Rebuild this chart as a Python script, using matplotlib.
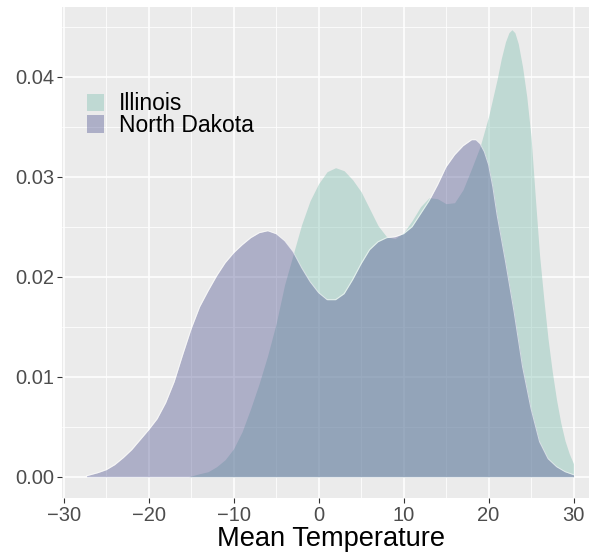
import matplotlib
matplotlib.use("Agg")
import matplotlib.pyplot as plt
from matplotlib.patches import Patch

# densities
il_x = [-15.3, -14, -13, -12, -11, -10, -9, -8, -7, -6, -5, -4, -3, -2, -1, 0,
        1, 2, 3, 4, 5, 6, 7, 8, 9, 10, 11, 12, 13, 14, 15, 16, 17, 18, 19, 20,
        21, 21.5, 22, 22.4, 22.75, 23.1, 23.5, 24, 24.5, 25, 25.5, 26, 26.5, 27,
        27.5, 28, 28.5, 29, 29.5, 30]
il_y = [0.0, 0.0003, 0.0005, 0.001, 0.0017, 0.0028, 0.0045, 0.0068, 0.0093,
        0.0121, 0.0153, 0.0192, 0.0222, 0.0252, 0.0276, 0.0293, 0.0305, 0.0309,
        0.0306, 0.0297, 0.0285, 0.0268, 0.0251, 0.0240, 0.0238, 0.0244, 0.0256,
        0.0270, 0.0279, 0.0278, 0.0273, 0.0274, 0.0287, 0.0308, 0.0330, 0.0360,
        0.0397, 0.0418, 0.0435, 0.0444, 0.0447, 0.0444, 0.0433, 0.0410, 0.0380,
        0.0340, 0.0280, 0.0222, 0.0178, 0.0138, 0.0105, 0.0077, 0.0054, 0.0036,
        0.0023, 0.0013]

nd_x = [-27.3, -26, -25, -24, -23, -22, -21, -20, -19, -18, -17, -16, -15, -14,
        -13, -12, -11, -10, -9, -8, -7, -6, -5, -4, -3, -2, -1, 0, 1, 2, 3, 4,
        5, 6, 7, 8, 9, 10, 11, 12, 13, 14, 15, 16, 17, 18, 18.5, 19, 19.5, 20,
        20.5, 21, 22, 23, 24, 25, 26, 27, 28, 29, 30]
nd_y = [0.0001, 0.0004, 0.0007, 0.0012, 0.0019, 0.0027, 0.0037, 0.0047, 0.0058,
        0.0074, 0.0095, 0.0122, 0.0148, 0.0170, 0.0186, 0.0201, 0.0214, 0.0224,
        0.0232, 0.0239, 0.0244, 0.0246, 0.0243, 0.0236, 0.0225, 0.0209, 0.0195,
        0.0184, 0.0177, 0.0177, 0.0183, 0.0197, 0.0213, 0.0227, 0.0235, 0.0239,
        0.0240, 0.0243, 0.0250, 0.0263, 0.0276, 0.0292, 0.0310, 0.0322, 0.0331,
        0.0337, 0.0337, 0.0333, 0.0325, 0.0312, 0.0290, 0.0262, 0.0215, 0.0165,
        0.0110, 0.0068, 0.0035, 0.0018, 0.0010, 0.0005, 0.0002]

labels = ["Illinois", "North Dakota"]
il_col = "#7DBEAF"
nd_col = "#525593"
alpha = 0.4

plt.rcParams["font.family"] = ["Liberation Sans", "DejaVu Sans"]

fig = plt.figure(figsize=(5.89, 5.58), dpi=100)
# panel runs a little past the right edge of the picture (cropped, like the reference)
ax = fig.add_axes([62.3 / 589, 59.7 / 558, (599 - 62.3) / 589, 491.6 / 558])
ax.set_facecolor("#EBEBEB")

ax.set_xticks([-30, -20, -10, 0, 10, 20, 30])
ax.set_xticks([-25, -15, -5, 5, 15, 25], minor=True)
ax.set_yticks([0.0, 0.01, 0.02, 0.03, 0.04])
ax.set_yticks([0.005, 0.015, 0.025, 0.035, 0.045], minor=True)
ax.grid(which="major", color="white", lw=1.1)
ax.grid(which="minor", color="white", lw=0.55)
ax.set_axisbelow(True)

ax.fill_between(il_x, 0, il_y, color=il_col, alpha=alpha, lw=0)
ax.fill_between(nd_x, 0, nd_y, color=nd_col, alpha=alpha, lw=0)
ax.plot(nd_x, nd_y, color="white", lw=0.7, alpha=0.6)

ax.set_xlim(-30.16, 33.0)
ax.set_ylim(-0.00216, 0.0470)
ax.set_yticklabels(["0.00", "0.01", "0.02", "0.03", "0.04"])

for s in ax.spines.values():
    s.set_visible(False)
ax.tick_params(which="major", length=3.5, width=0.8, color="#333333",
               labelcolor="#4D4D4D", labelsize=14.5, pad=2)
ax.tick_params(which="minor", length=0)
ax.set_xlabel("Mean Temperature", fontsize=19.6, color="black", labelpad=1)

handles = [Patch(facecolor=il_col, alpha=alpha, edgecolor="none"),
           Patch(facecolor=nd_col, alpha=alpha, edgecolor="none")]
ax.legend(handles, labels, loc="upper left", bbox_to_anchor=(0.046, 0.826),
          frameon=False, fontsize=16.5, handlelength=0.74, handleheight=0.79,
          handletextpad=0.65, labelspacing=-0.05, borderpad=0, borderaxespad=0)

fig.savefig("out.png", dpi=100)
